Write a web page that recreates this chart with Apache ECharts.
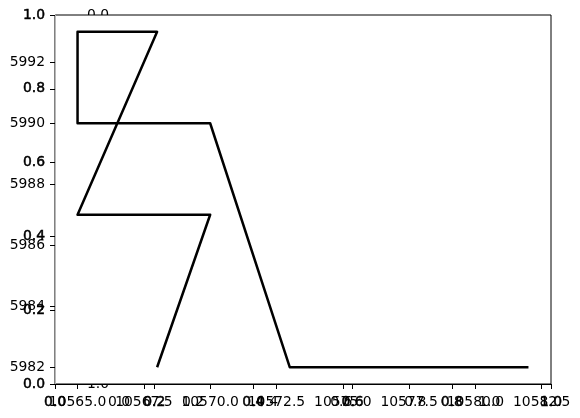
<!DOCTYPE html>
<html>
<head>
<meta charset="utf-8">
<script src="https://cdn.jsdelivr.net/npm/echarts@6/dist/echarts.min.js"></script>
<style>
html,body{margin:0;padding:0;background:#fff;}
#chart{width:580px;height:418px;}
</style>
</head>
<body>
<div id="chart"></div>
<script>
// Data (line traced in order)
const xValues = [10568, 10570, 10565, 10568, 10565, 10565, 10570, 10573, 10582];
const yValues = [5982, 5987, 5987, 5993, 5993, 5990, 5990, 5982, 5982];
// Tick labels of the data axes
const xTicks = [10565.0, 10567.5, 10570.0, 10572.5, 10575.0, 10577.5, 10580.0, 10582.5];
const yTicks = [5982, 5984, 5986, 5988, 5990, 5992];
// Axis limits (5% margins)
const xLimits = [10564.15, 10582.85];
const yLimits = [5981.45, 5993.55];
// Unit axes ticks
const unitTicks = [0.0, 0.2, 0.4, 0.6, 0.8, 1.0];

const FONT = 'DejaVu Sans';
const FS = 13.9;
const baseLabel = {fontFamily: FONT, fontSize: FS, color: '#000'};
const boldLabel = Object.assign({}, baseLabel, {textBorderColor: '#000', textBorderWidth: 0.5});
const tick = {show: true, length: 5, inside: false, lineStyle: {color: '#000', width: 1}};

const chart = echarts.init(document.getElementById('chart'), null, {renderer: 'canvas'});
const option = {
  backgroundColor: '#fff',
  animation: false,
  grid: [
    {left: 55, top: 15, width: 496, height: 369, show: true, backgroundColor: '#fff',
     borderColor: '#000', borderWidth: 1, z: 1},
    {left: 119, top: 15, width: 370.3, height: 369, show: false, z: 0}
  ],
  xAxis: [
    {type: 'value', gridIndex: 0, position: 'bottom', min: 0, max: 1, interval: 0.2, z: 3,
     axisLine: {show: true, lineStyle: {color: '#000', width: 1}}, axisTick: tick,
     splitLine: {show: false},
     axisLabel: Object.assign({margin: 11, formatter: v => v.toFixed(1)}, boldLabel)},
    {type: 'value', gridIndex: 0, position: 'bottom', min: xLimits[0], max: xLimits[1], z: 3,
     axisLine: {show: false},
     axisTick: Object.assign({customValues: xTicks}, tick),
     splitLine: {show: false},
     axisLabel: Object.assign({margin: 11, customValues: xTicks, formatter: v => v.toFixed(1)}, baseLabel)},
    {type: 'value', gridIndex: 1, position: 'bottom', min: 0, max: 1, interval: 0.2, z: 0,
     axisLine: {show: false}, axisTick: tick, splitLine: {show: false},
     axisLabel: Object.assign({margin: 11, formatter: v => v.toFixed(1)}, baseLabel)}
  ],
  yAxis: [
    {type: 'value', gridIndex: 0, position: 'left', min: 0, max: 1, interval: 0.2, z: 3,
     axisLine: {show: true, lineStyle: {color: '#b8b8b8', width: 1}}, axisTick: tick,
     splitLine: {show: false},
     axisLabel: Object.assign({margin: 10, formatter: v => v.toFixed(1)}, boldLabel)},
    {type: 'value', gridIndex: 0, position: 'left', min: yLimits[0], max: yLimits[1], z: 3,
     axisLine: {show: false},
     axisTick: Object.assign({customValues: yTicks}, tick),
     splitLine: {show: false},
     axisLabel: Object.assign({margin: 10, customValues: yTicks, formatter: v => String(v)}, baseLabel)},
    {type: 'value', gridIndex: 1, position: 'left', inverse: true, min: 0, max: 1, interval: 0.2, z: 0,
     axisLine: {show: false}, axisTick: tick, splitLine: {show: false},
     axisLabel: Object.assign({margin: 10, formatter: v => v.toFixed(1)}, baseLabel)}
  ],
  series: [{
    type: 'line', xAxisIndex: 1, yAxisIndex: 1, z: 4,
    data: xValues.map((x, i) => [x, yValues[i]]),
    showSymbol: false, symbol: 'none',
    lineStyle: {color: '#000', width: 2.5, join: 'round'},
    clip: false
  }]
};
chart.setOption(option);
</script>
</body>
</html>
